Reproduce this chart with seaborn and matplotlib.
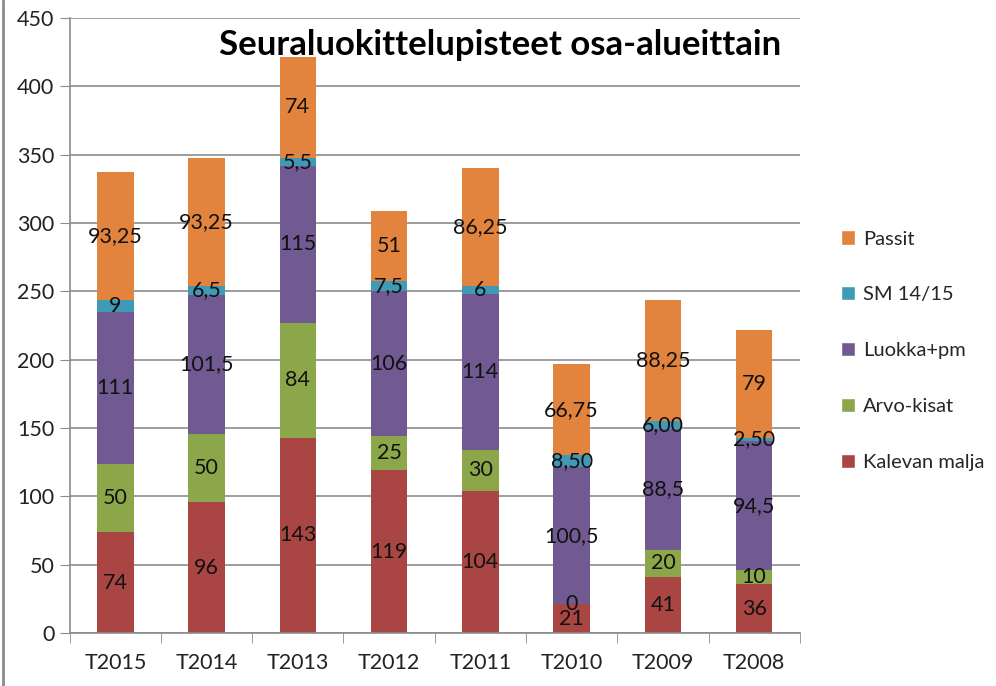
import matplotlib
matplotlib.use('Agg')
import matplotlib.pyplot as plt
from matplotlib.lines import Line2D
from matplotlib.patches import Patch
import numpy as np
import pandas as pd
import seaborn as sns

seasons = ['T2015', 'T2014', 'T2013', 'T2012', 'T2011', 'T2010', 'T2009', 'T2008']
kalevan_malja = [74, 96, 143, 119, 104, 21, 41, 36]
arvo_kisat = [50, 50, 84, 25, 30, 0, 20, 10]
luokka_pm = [111, 101.5, 115, 106, 114, 100.5, 88.5, 94.5]
sm_1415 = [9, 6.5, 5.5, 7.5, 6, 8.5, 6.0, 2.5]
passit = [93.25, 93.25, 74, 51, 86.25, 66.75, 88.25, 79]
sm_labels = ['9', '6,5', '5,5', '7,5', '6', '8,50', '6,00', '2,50']

series = ['Kalevan malja', 'Arvo-kisat', 'Luokka+pm', 'SM 14/15', 'Passit']
colors = ['#A94643', '#8CA64A', '#715A92', '#3F9BB5', '#E2833E']
values = [kalevan_malja, arvo_kisat, luokka_pm, sm_1415, passit]


def fmt(v):
    return f'{v:g}'.replace('.', ',')


labels = [[fmt(v) for v in s] for s in values]
labels[3] = sm_labels

sns.set_style('white')
plt.rcParams['font.family'] = ['Lato', 'DejaVu Sans']

fig = plt.figure(figsize=(9.96, 6.86), dpi=100)
ax = fig.add_axes([0.070, 0.077, 0.733, 0.897])

# stacked bars: draw cumulative totals from the top series down
cum = np.cumsum(np.array(values, dtype=float), axis=0)
for i in range(len(series) - 1, -1, -1):
    df = pd.DataFrame({'season': seasons, 'total': cum[i]})
    sns.barplot(data=df, x='season', y='total', color=colors[i],
                width=0.4, saturation=1, linewidth=0, ax=ax, zorder=2)

for i in range(len(series)):
    for j in range(len(seasons)):
        y = cum[i][j] - values[i][j] / 2
        ax.text(j, y, labels[i][j], ha='center', va='center',
                fontsize=15.5, color='#111111', zorder=5)

ax.set_ylim(0, 450)
ax.set_xlim(-0.5, 7.5)
ax.set_yticks(range(0, 451, 50))
ax.yaxis.grid(True, color='#8c8c8c', linewidth=1.2)
ax.set_axisbelow(True)
ax.set_xlabel('')
ax.set_ylabel('')
for side in ['top', 'right']:
    ax.spines[side].set_visible(False)
ax.spines['left'].set_color('#8c8c8c')
ax.spines['bottom'].set_color('#8c8c8c')
ax.spines['left'].set_linewidth(1.2)
ax.spines['bottom'].set_linewidth(1.2)

ax.tick_params(axis='y', length=7, color='#8c8c8c', labelsize=15.5, pad=4,
               left=True, labelcolor='#222222')
ax.set_xticks(np.arange(8))
ax.set_xticks(np.arange(-0.5, 8, 1), minor=True)
ax.tick_params(axis='x', which='major', length=0, labelsize=15.5, pad=14,
               labelcolor='#222222')
ax.tick_params(axis='x', which='minor', length=7, color='#8c8c8c', bottom=True)

ax.text(0.589, 0.956, 'Seuraluokittelupisteet osa-alueittain',
        transform=ax.transAxes, ha='center', va='center',
        fontsize=25, fontweight='bold', color='black')

handles = [Patch(facecolor=colors[i], label=series[i])
           for i in range(len(series) - 1, -1, -1)]
fig.legend(handles=handles, loc='center left', bbox_to_anchor=(0.826, 0.489),
           frameon=False, fontsize=14.5, handlelength=0.7, handleheight=0.7,
           handletextpad=0.4, labelspacing=1.92)

fig.add_artist(Line2D([0.003, 0.003], [0, 1], color='#8c8c8c', linewidth=2))

fig.savefig('out.png', dpi=100)
